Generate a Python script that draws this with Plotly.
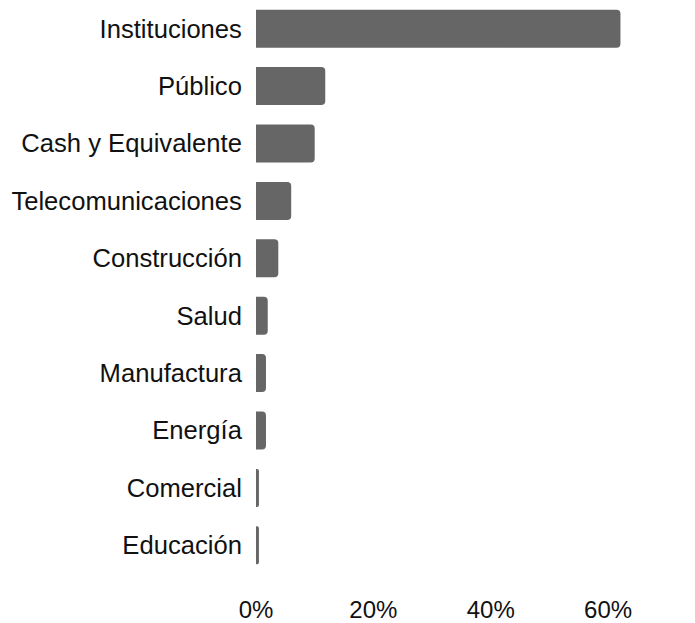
import plotly.graph_objects as go

categories = ["Instituciones", "Público", "Cash y Equivalente", "Telecomunicaciones",
              "Construcción", "Salud", "Manufactura", "Energía", "Comercial", "Educación"]
values = [0.621, 0.118, 0.100, 0.060, 0.038, 0.020, 0.017, 0.017, 0.005, 0.005]
tick_vals = [0, 0.2, 0.4, 0.6]
tick_text = ["0%", "20%", "40%", "60%"]

fig = go.Figure(go.Bar(
    x=values, y=categories, orientation="h",
    marker=dict(color="#666666", cornerradius=4, line=dict(width=0)),
))

font_family = "Liberation Sans, Arial, Helvetica, sans-serif"
fig.update_layout(
    width=695, height=623,
    margin=dict(l=256, r=0, t=0, b=49, pad=0, autoexpand=False),
    paper_bgcolor="white", plot_bgcolor="white",
    bargap=0.338,
    showlegend=False,
    font=dict(family=font_family, size=25, color="#111111"),
    xaxis=dict(range=[0, 0.748], tickvals=tick_vals, ticktext=tick_text,
               showgrid=False, zeroline=False, showline=False, automargin=False,
               ticks="outside", ticklen=0, ticklabelstandoff=14,
               tickfont=dict(size=24, color="#111111")),
    yaxis=dict(categoryorder="array", categoryarray=categories[::-1],
               showgrid=False, zeroline=False, showline=False, automargin=False,
               ticks="outside", ticklen=0, ticklabelstandoff=8,
               tickfont=dict(size=25.6, color="#111111")),
)

fig.write_html("out.html")
